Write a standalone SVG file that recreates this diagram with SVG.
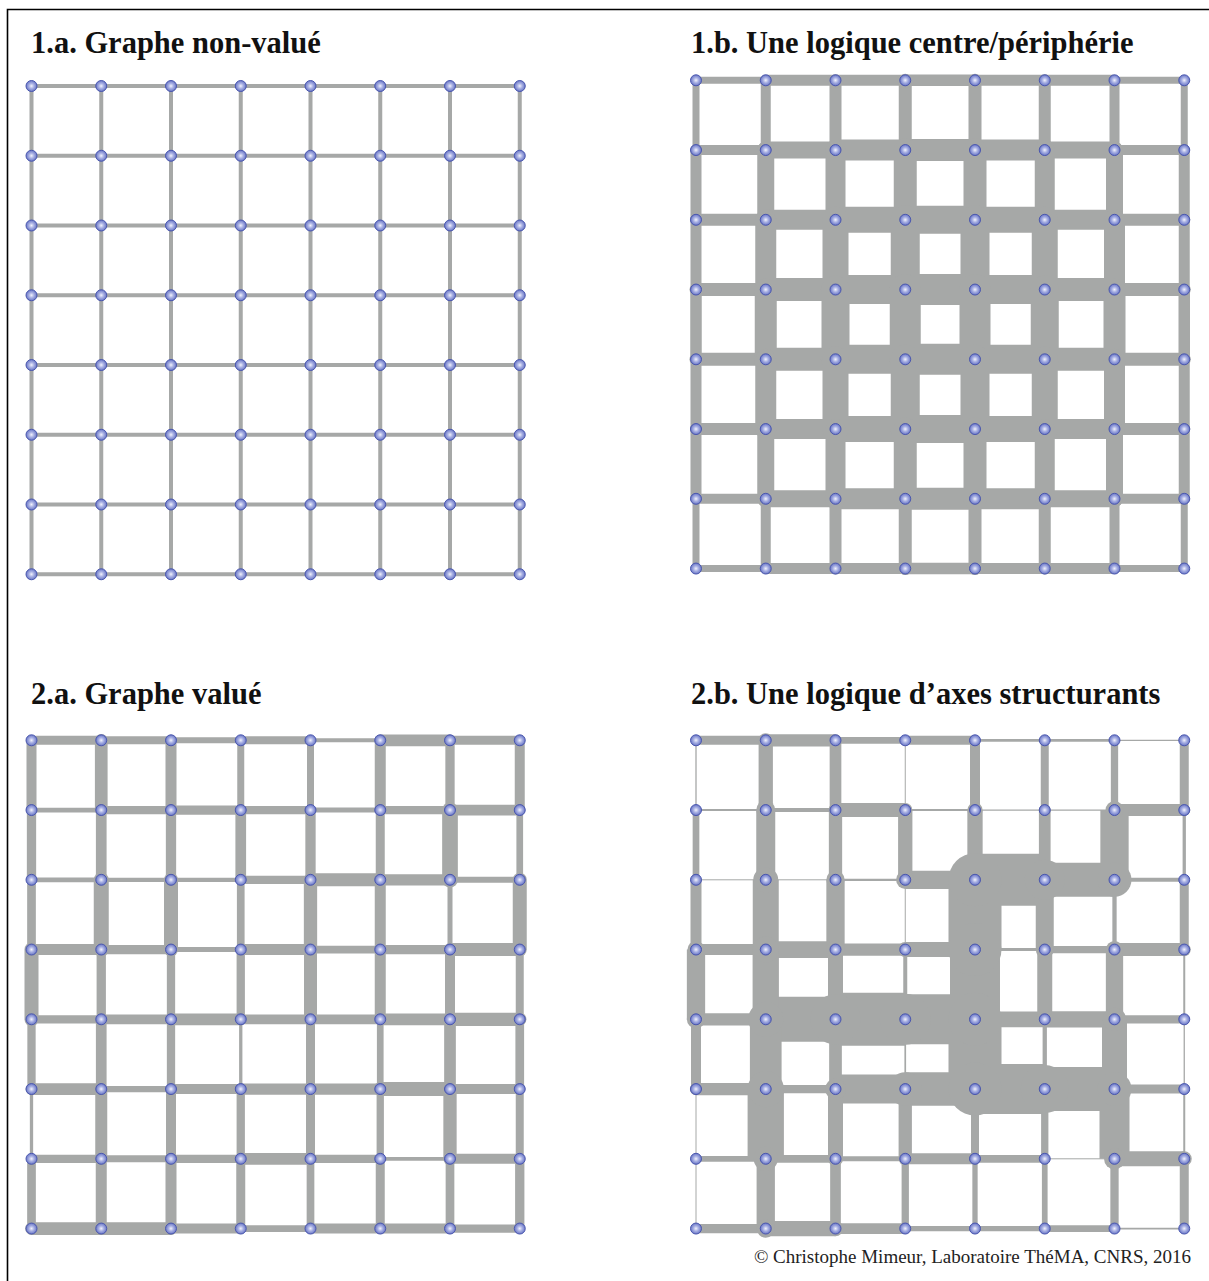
<svg xmlns="http://www.w3.org/2000/svg" width="1209" height="1281" viewBox="0 0 1209 1281">
<style>
.e path{fill:none;stroke:#a6a8a7;stroke-linecap:round}
.e.b path{stroke-linecap:butt}
.e circle{fill:#a6a8a7}
.t{font-family:"Liberation Serif","Times New Roman",serif;font-weight:bold;font-size:30.5px;fill:#111}
.c{font-family:"Liberation Serif","Times New Roman",serif;font-size:19px;fill:#222}
</style>
<defs>
<radialGradient id="ng" cx="0.5" cy="0.5" r="0.5">
<stop offset="0" stop-color="#f2f3fc"/>
<stop offset="0.45" stop-color="#aab2e4"/>
<stop offset="1" stop-color="#6875c6"/>
</radialGradient>
<circle id="n" r="5.5" fill="url(#ng)" stroke="#4a57ae" stroke-width="1"/>
</defs>
<rect width="1209" height="1281" fill="#fff"/>
<path d="M7.5 1281V9.5H1209" fill="none" stroke="#000" stroke-width="1.6"/>
<text class="t" x="31" y="53">1.a. Graphe non-valué</text>
<text class="t" x="691" y="53">1.b. Une logique centre/périphérie</text>
<text class="t" x="31" y="704">2.a. Graphe valué</text>
<text class="t" x="691" y="704">2.b. Une logique d’axes structurants</text>
<text class="c" x="1191" y="1263" text-anchor="end">© Christophe Mimeur, Laboratoire ThéMA, CNRS, 2016</text>

<!-- 1.a -->
<g id="graph-1a" transform="translate(31.5,86)">
<g id="connectors-1a" class="e">
<path stroke-width="4" d="M0 0h488.25M0 69.75h488.25M0 139.5h488.25M0 209.25h488.25M0 279h488.25M0 348.75h488.25M0 418.5h488.25M0 488.25h488.25M0 0v488.25M69.75 0v488.25M139.5 0v488.25M209.25 0v488.25M279 0v488.25M348.75 0v488.25M418.5 0v488.25M488.25 0v488.25"/>
</g>
<g id="nodes-1a">
<g id="a-0-0"><use href="#n" x="0" y="0"/></g><g id="a-0-1"><use href="#n" x="69.75" y="0"/></g><g id="a-0-2"><use href="#n" x="139.5" y="0"/></g><g id="a-0-3"><use href="#n" x="209.25" y="0"/></g><g id="a-0-4"><use href="#n" x="279" y="0"/></g><g id="a-0-5"><use href="#n" x="348.75" y="0"/></g><g id="a-0-6"><use href="#n" x="418.5" y="0"/></g><g id="a-0-7"><use href="#n" x="488.25" y="0"/></g>
<g id="a-1-0"><use href="#n" x="0" y="69.75"/></g><g id="a-1-1"><use href="#n" x="69.75" y="69.75"/></g><g id="a-1-2"><use href="#n" x="139.5" y="69.75"/></g><g id="a-1-3"><use href="#n" x="209.25" y="69.75"/></g><g id="a-1-4"><use href="#n" x="279" y="69.75"/></g><g id="a-1-5"><use href="#n" x="348.75" y="69.75"/></g><g id="a-1-6"><use href="#n" x="418.5" y="69.75"/></g><g id="a-1-7"><use href="#n" x="488.25" y="69.75"/></g>
<g id="a-2-0"><use href="#n" x="0" y="139.5"/></g><g id="a-2-1"><use href="#n" x="69.75" y="139.5"/></g><g id="a-2-2"><use href="#n" x="139.5" y="139.5"/></g><g id="a-2-3"><use href="#n" x="209.25" y="139.5"/></g><g id="a-2-4"><use href="#n" x="279" y="139.5"/></g><g id="a-2-5"><use href="#n" x="348.75" y="139.5"/></g><g id="a-2-6"><use href="#n" x="418.5" y="139.5"/></g><g id="a-2-7"><use href="#n" x="488.25" y="139.5"/></g>
<g id="a-3-0"><use href="#n" x="0" y="209.25"/></g><g id="a-3-1"><use href="#n" x="69.75" y="209.25"/></g><g id="a-3-2"><use href="#n" x="139.5" y="209.25"/></g><g id="a-3-3"><use href="#n" x="209.25" y="209.25"/></g><g id="a-3-4"><use href="#n" x="279" y="209.25"/></g><g id="a-3-5"><use href="#n" x="348.75" y="209.25"/></g><g id="a-3-6"><use href="#n" x="418.5" y="209.25"/></g><g id="a-3-7"><use href="#n" x="488.25" y="209.25"/></g>
<g id="a-4-0"><use href="#n" x="0" y="279"/></g><g id="a-4-1"><use href="#n" x="69.75" y="279"/></g><g id="a-4-2"><use href="#n" x="139.5" y="279"/></g><g id="a-4-3"><use href="#n" x="209.25" y="279"/></g><g id="a-4-4"><use href="#n" x="279" y="279"/></g><g id="a-4-5"><use href="#n" x="348.75" y="279"/></g><g id="a-4-6"><use href="#n" x="418.5" y="279"/></g><g id="a-4-7"><use href="#n" x="488.25" y="279"/></g>
<g id="a-5-0"><use href="#n" x="0" y="348.75"/></g><g id="a-5-1"><use href="#n" x="69.75" y="348.75"/></g><g id="a-5-2"><use href="#n" x="139.5" y="348.75"/></g><g id="a-5-3"><use href="#n" x="209.25" y="348.75"/></g><g id="a-5-4"><use href="#n" x="279" y="348.75"/></g><g id="a-5-5"><use href="#n" x="348.75" y="348.75"/></g><g id="a-5-6"><use href="#n" x="418.5" y="348.75"/></g><g id="a-5-7"><use href="#n" x="488.25" y="348.75"/></g>
<g id="a-6-0"><use href="#n" x="0" y="418.5"/></g><g id="a-6-1"><use href="#n" x="69.75" y="418.5"/></g><g id="a-6-2"><use href="#n" x="139.5" y="418.5"/></g><g id="a-6-3"><use href="#n" x="209.25" y="418.5"/></g><g id="a-6-4"><use href="#n" x="279" y="418.5"/></g><g id="a-6-5"><use href="#n" x="348.75" y="418.5"/></g><g id="a-6-6"><use href="#n" x="418.5" y="418.5"/></g><g id="a-6-7"><use href="#n" x="488.25" y="418.5"/></g>
<g id="a-7-0"><use href="#n" x="0" y="488.25"/></g><g id="a-7-1"><use href="#n" x="69.75" y="488.25"/></g><g id="a-7-2"><use href="#n" x="139.5" y="488.25"/></g><g id="a-7-3"><use href="#n" x="209.25" y="488.25"/></g><g id="a-7-4"><use href="#n" x="279" y="488.25"/></g><g id="a-7-5"><use href="#n" x="348.75" y="488.25"/></g><g id="a-7-6"><use href="#n" x="418.5" y="488.25"/></g><g id="a-7-7"><use href="#n" x="488.25" y="488.25"/></g>
</g>
</g>

<!-- 1.b -->
<g id="graph-1b" transform="translate(696,80.3)">
<g id="connectors-1b" class="e">
<path d="M0 0h69.75" stroke-width="7"/><path d="M69.75 0h69.75" stroke-width="11"/><path d="M139.5 0h69.75" stroke-width="11"/><path d="M209.25 0h69.75" stroke-width="11.5"/><path d="M279 0h69.75" stroke-width="11"/><path d="M348.75 0h69.75" stroke-width="11"/><path d="M418.5 0h69.75" stroke-width="7"/>
<path d="M0 69.75h69.75" stroke-width="10"/><path d="M69.75 69.75h69.75" stroke-width="17"/><path d="M139.5 69.75h69.75" stroke-width="21"/><path d="M209.25 69.75h69.75" stroke-width="22"/><path d="M279 69.75h69.75" stroke-width="21"/><path d="M348.75 69.75h69.75" stroke-width="17"/><path d="M418.5 69.75h69.75" stroke-width="10"/>
<path d="M0 139.5h69.75" stroke-width="12"/><path d="M69.75 139.5h69.75" stroke-width="20"/><path d="M139.5 139.5h69.75" stroke-width="26"/><path d="M209.25 139.5h69.75" stroke-width="28"/><path d="M279 139.5h69.75" stroke-width="26"/><path d="M348.75 139.5h69.75" stroke-width="20"/><path d="M418.5 139.5h69.75" stroke-width="12"/>
<path d="M0 209.25h69.75" stroke-width="13"/><path d="M69.75 209.25h69.75" stroke-width="23"/><path d="M139.5 209.25h69.75" stroke-width="29"/><path d="M209.25 209.25h69.75" stroke-width="31"/><path d="M279 209.25h69.75" stroke-width="29"/><path d="M348.75 209.25h69.75" stroke-width="23"/><path d="M418.5 209.25h69.75" stroke-width="13"/>
<path d="M0 279h69.75" stroke-width="13"/><path d="M69.75 279h69.75" stroke-width="23"/><path d="M139.5 279h69.75" stroke-width="29"/><path d="M209.25 279h69.75" stroke-width="31"/><path d="M279 279h69.75" stroke-width="29"/><path d="M348.75 279h69.75" stroke-width="23"/><path d="M418.5 279h69.75" stroke-width="13"/>
<path d="M0 348.75h69.75" stroke-width="12"/><path d="M69.75 348.75h69.75" stroke-width="20"/><path d="M139.5 348.75h69.75" stroke-width="26"/><path d="M209.25 348.75h69.75" stroke-width="28"/><path d="M279 348.75h69.75" stroke-width="26"/><path d="M348.75 348.75h69.75" stroke-width="20"/><path d="M418.5 348.75h69.75" stroke-width="12"/>
<path d="M0 418.5h69.75" stroke-width="10"/><path d="M69.75 418.5h69.75" stroke-width="17"/><path d="M139.5 418.5h69.75" stroke-width="21"/><path d="M209.25 418.5h69.75" stroke-width="22"/><path d="M279 418.5h69.75" stroke-width="21"/><path d="M348.75 418.5h69.75" stroke-width="17"/><path d="M418.5 418.5h69.75" stroke-width="10"/>
<path d="M0 488.25h69.75" stroke-width="7"/><path d="M69.75 488.25h69.75" stroke-width="11"/><path d="M139.5 488.25h69.75" stroke-width="11"/><path d="M209.25 488.25h69.75" stroke-width="11.5"/><path d="M279 488.25h69.75" stroke-width="11"/><path d="M348.75 488.25h69.75" stroke-width="11"/><path d="M418.5 488.25h69.75" stroke-width="7"/>
<path d="M0 0v69.75" stroke-width="7"/><path d="M0 69.75v69.75" stroke-width="11"/><path d="M0 139.5v69.75" stroke-width="11"/><path d="M0 209.25v69.75" stroke-width="11.5"/><path d="M0 279v69.75" stroke-width="11"/><path d="M0 348.75v69.75" stroke-width="11"/><path d="M0 418.5v69.75" stroke-width="7"/>
<path d="M69.75 0v69.75" stroke-width="10"/><path d="M69.75 69.75v69.75" stroke-width="17"/><path d="M69.75 139.5v69.75" stroke-width="21"/><path d="M69.75 209.25v69.75" stroke-width="22"/><path d="M69.75 279v69.75" stroke-width="21"/><path d="M69.75 348.75v69.75" stroke-width="17"/><path d="M69.75 418.5v69.75" stroke-width="10"/>
<path d="M139.5 0v69.75" stroke-width="12"/><path d="M139.5 69.75v69.75" stroke-width="20"/><path d="M139.5 139.5v69.75" stroke-width="26"/><path d="M139.5 209.25v69.75" stroke-width="28"/><path d="M139.5 279v69.75" stroke-width="26"/><path d="M139.5 348.75v69.75" stroke-width="20"/><path d="M139.5 418.5v69.75" stroke-width="12"/>
<path d="M209.25 0v69.75" stroke-width="13"/><path d="M209.25 69.75v69.75" stroke-width="23"/><path d="M209.25 139.5v69.75" stroke-width="29"/><path d="M209.25 209.25v69.75" stroke-width="31"/><path d="M209.25 279v69.75" stroke-width="29"/><path d="M209.25 348.75v69.75" stroke-width="23"/><path d="M209.25 418.5v69.75" stroke-width="13"/>
<path d="M279 0v69.75" stroke-width="13"/><path d="M279 69.75v69.75" stroke-width="23"/><path d="M279 139.5v69.75" stroke-width="29"/><path d="M279 209.25v69.75" stroke-width="31"/><path d="M279 279v69.75" stroke-width="29"/><path d="M279 348.75v69.75" stroke-width="23"/><path d="M279 418.5v69.75" stroke-width="13"/>
<path d="M348.75 0v69.75" stroke-width="12"/><path d="M348.75 69.75v69.75" stroke-width="20"/><path d="M348.75 139.5v69.75" stroke-width="26"/><path d="M348.75 209.25v69.75" stroke-width="28"/><path d="M348.75 279v69.75" stroke-width="26"/><path d="M348.75 348.75v69.75" stroke-width="20"/><path d="M348.75 418.5v69.75" stroke-width="12"/>
<path d="M418.5 0v69.75" stroke-width="10"/><path d="M418.5 69.75v69.75" stroke-width="17"/><path d="M418.5 139.5v69.75" stroke-width="21"/><path d="M418.5 209.25v69.75" stroke-width="22"/><path d="M418.5 279v69.75" stroke-width="21"/><path d="M418.5 348.75v69.75" stroke-width="17"/><path d="M418.5 418.5v69.75" stroke-width="10"/>
<path d="M488.25 0v69.75" stroke-width="7"/><path d="M488.25 69.75v69.75" stroke-width="11"/><path d="M488.25 139.5v69.75" stroke-width="11"/><path d="M488.25 209.25v69.75" stroke-width="11.5"/><path d="M488.25 279v69.75" stroke-width="11"/><path d="M488.25 348.75v69.75" stroke-width="11"/><path d="M488.25 418.5v69.75" stroke-width="7"/>
</g>
<g id="nodes-1b">
<g id="b-0-0"><use href="#n" x="0" y="0"/></g><g id="b-0-1"><use href="#n" x="69.75" y="0"/></g><g id="b-0-2"><use href="#n" x="139.5" y="0"/></g><g id="b-0-3"><use href="#n" x="209.25" y="0"/></g><g id="b-0-4"><use href="#n" x="279" y="0"/></g><g id="b-0-5"><use href="#n" x="348.75" y="0"/></g><g id="b-0-6"><use href="#n" x="418.5" y="0"/></g><g id="b-0-7"><use href="#n" x="488.25" y="0"/></g>
<g id="b-1-0"><use href="#n" x="0" y="69.75"/></g><g id="b-1-1"><use href="#n" x="69.75" y="69.75"/></g><g id="b-1-2"><use href="#n" x="139.5" y="69.75"/></g><g id="b-1-3"><use href="#n" x="209.25" y="69.75"/></g><g id="b-1-4"><use href="#n" x="279" y="69.75"/></g><g id="b-1-5"><use href="#n" x="348.75" y="69.75"/></g><g id="b-1-6"><use href="#n" x="418.5" y="69.75"/></g><g id="b-1-7"><use href="#n" x="488.25" y="69.75"/></g>
<g id="b-2-0"><use href="#n" x="0" y="139.5"/></g><g id="b-2-1"><use href="#n" x="69.75" y="139.5"/></g><g id="b-2-2"><use href="#n" x="139.5" y="139.5"/></g><g id="b-2-3"><use href="#n" x="209.25" y="139.5"/></g><g id="b-2-4"><use href="#n" x="279" y="139.5"/></g><g id="b-2-5"><use href="#n" x="348.75" y="139.5"/></g><g id="b-2-6"><use href="#n" x="418.5" y="139.5"/></g><g id="b-2-7"><use href="#n" x="488.25" y="139.5"/></g>
<g id="b-3-0"><use href="#n" x="0" y="209.25"/></g><g id="b-3-1"><use href="#n" x="69.75" y="209.25"/></g><g id="b-3-2"><use href="#n" x="139.5" y="209.25"/></g><g id="b-3-3"><use href="#n" x="209.25" y="209.25"/></g><g id="b-3-4"><use href="#n" x="279" y="209.25"/></g><g id="b-3-5"><use href="#n" x="348.75" y="209.25"/></g><g id="b-3-6"><use href="#n" x="418.5" y="209.25"/></g><g id="b-3-7"><use href="#n" x="488.25" y="209.25"/></g>
<g id="b-4-0"><use href="#n" x="0" y="279"/></g><g id="b-4-1"><use href="#n" x="69.75" y="279"/></g><g id="b-4-2"><use href="#n" x="139.5" y="279"/></g><g id="b-4-3"><use href="#n" x="209.25" y="279"/></g><g id="b-4-4"><use href="#n" x="279" y="279"/></g><g id="b-4-5"><use href="#n" x="348.75" y="279"/></g><g id="b-4-6"><use href="#n" x="418.5" y="279"/></g><g id="b-4-7"><use href="#n" x="488.25" y="279"/></g>
<g id="b-5-0"><use href="#n" x="0" y="348.75"/></g><g id="b-5-1"><use href="#n" x="69.75" y="348.75"/></g><g id="b-5-2"><use href="#n" x="139.5" y="348.75"/></g><g id="b-5-3"><use href="#n" x="209.25" y="348.75"/></g><g id="b-5-4"><use href="#n" x="279" y="348.75"/></g><g id="b-5-5"><use href="#n" x="348.75" y="348.75"/></g><g id="b-5-6"><use href="#n" x="418.5" y="348.75"/></g><g id="b-5-7"><use href="#n" x="488.25" y="348.75"/></g>
<g id="b-6-0"><use href="#n" x="0" y="418.5"/></g><g id="b-6-1"><use href="#n" x="69.75" y="418.5"/></g><g id="b-6-2"><use href="#n" x="139.5" y="418.5"/></g><g id="b-6-3"><use href="#n" x="209.25" y="418.5"/></g><g id="b-6-4"><use href="#n" x="279" y="418.5"/></g><g id="b-6-5"><use href="#n" x="348.75" y="418.5"/></g><g id="b-6-6"><use href="#n" x="418.5" y="418.5"/></g><g id="b-6-7"><use href="#n" x="488.25" y="418.5"/></g>
<g id="b-7-0"><use href="#n" x="0" y="488.25"/></g><g id="b-7-1"><use href="#n" x="69.75" y="488.25"/></g><g id="b-7-2"><use href="#n" x="139.5" y="488.25"/></g><g id="b-7-3"><use href="#n" x="209.25" y="488.25"/></g><g id="b-7-4"><use href="#n" x="279" y="488.25"/></g><g id="b-7-5"><use href="#n" x="348.75" y="488.25"/></g><g id="b-7-6"><use href="#n" x="418.5" y="488.25"/></g><g id="b-7-7"><use href="#n" x="488.25" y="488.25"/></g>
</g>
</g>

<!-- 2.a -->
<g id="graph-2a" transform="translate(31.5,740.3)">
<g id="connectors-2a" class="e">
<path d="M0 0h69.75" stroke-width="9"/><path d="M69.75 0h69.75" stroke-width="8"/><path d="M139.5 0h69.75" stroke-width="6"/><path d="M209.25 0h69.75" stroke-width="8"/><path d="M279 0h69.75" stroke-width="4"/><path d="M348.75 0h69.75" stroke-width="11.7"/><path d="M418.5 0h69.75" stroke-width="9"/>
<path d="M0 69.75h69.75" stroke-width="4.7"/><path d="M69.75 69.75h69.75" stroke-width="8.3"/><path d="M139.5 69.75h69.75" stroke-width="9.3"/><path d="M209.25 69.75h69.75" stroke-width="8.3"/><path d="M279 69.75h69.75" stroke-width="5"/><path d="M348.75 69.75h69.75" stroke-width="8.3"/><path d="M418.5 69.75h69.75" stroke-width="10.7"/>
<path d="M0 139.5h69.75" stroke-width="4.7"/><path d="M69.75 139.5h69.75" stroke-width="4.3"/><path d="M139.5 139.5h69.75" stroke-width="4.3"/><path d="M209.25 139.5h69.75" stroke-width="8.3"/><path d="M279 139.5h69.75" stroke-width="13"/><path d="M348.75 139.5h69.75" stroke-width="11.3"/><path d="M418.5 139.5h69.75" stroke-width="6"/>
<path d="M0 209.25h69.75" stroke-width="11"/><path d="M69.75 209.25h69.75" stroke-width="9.3"/><path d="M139.5 209.25h69.75" stroke-width="5"/><path d="M209.25 209.25h69.75" stroke-width="11"/><path d="M279 209.25h69.75" stroke-width="7.7"/><path d="M348.75 209.25h69.75" stroke-width="9.3"/><path d="M418.5 209.25h69.75" stroke-width="13"/>
<path d="M0 279h69.75" stroke-width="8.3"/><path d="M69.75 279h69.75" stroke-width="9.7"/><path d="M139.5 279h69.75" stroke-width="11.7"/><path d="M209.25 279h69.75" stroke-width="9.7"/><path d="M279 279h69.75" stroke-width="9.7"/><path d="M348.75 279h69.75" stroke-width="11.7"/><path d="M418.5 279h69.75" stroke-width="13.3"/>
<path d="M0 348.75h69.75" stroke-width="11.7"/><path d="M69.75 348.75h69.75" stroke-width="6.3"/><path d="M139.5 348.75h69.75" stroke-width="10"/><path d="M209.25 348.75h69.75" stroke-width="11.3"/><path d="M279 348.75h69.75" stroke-width="11.3"/><path d="M348.75 348.75h69.75" stroke-width="14"/><path d="M418.5 348.75h69.75" stroke-width="10"/>
<path d="M0 418.5h69.75" stroke-width="8.3"/><path d="M69.75 418.5h69.75" stroke-width="7"/><path d="M139.5 418.5h69.75" stroke-width="8.3"/><path d="M209.25 418.5h69.75" stroke-width="11.7"/><path d="M279 418.5h69.75" stroke-width="8.3"/><path d="M348.75 418.5h69.75" stroke-width="3.7"/><path d="M418.5 418.5h69.75" stroke-width="10"/>
<path d="M0 488.25h69.75" stroke-width="12.7"/><path d="M69.75 488.25h69.75" stroke-width="12.7"/><path d="M139.5 488.25h69.75" stroke-width="10"/><path d="M209.25 488.25h69.75" stroke-width="6.7"/><path d="M279 488.25h69.75" stroke-width="10"/><path d="M348.75 488.25h69.75" stroke-width="10"/><path d="M418.5 488.25h69.75" stroke-width="8.3"/>
<path d="M0 0v69.75" stroke-width="10"/><path d="M0 69.75v69.75" stroke-width="9.3"/><path d="M0 139.5v69.75" stroke-width="8.7"/><path d="M0 209.25v69.75" stroke-width="14"/><path d="M0 279v69.75" stroke-width="8.3"/><path d="M0 348.75v69.75" stroke-width="3.3"/><path d="M0 418.5v69.75" stroke-width="8.7"/>
<path d="M69.75 0v69.75" stroke-width="12.7"/><path d="M69.75 69.75v69.75" stroke-width="10.7"/><path d="M69.75 139.5v69.75" stroke-width="15"/><path d="M69.75 209.25v69.75" stroke-width="9.3"/><path d="M69.75 279v69.75" stroke-width="10.7"/><path d="M69.75 348.75v69.75" stroke-width="12"/><path d="M69.75 418.5v69.75" stroke-width="11"/>
<path d="M139.5 0v69.75" stroke-width="11"/><path d="M139.5 69.75v69.75" stroke-width="10.3"/><path d="M139.5 139.5v69.75" stroke-width="14"/><path d="M139.5 209.25v69.75" stroke-width="8.3"/><path d="M139.5 279v69.75" stroke-width="8.3"/><path d="M139.5 348.75v69.75" stroke-width="10"/><path d="M139.5 418.5v69.75" stroke-width="11"/>
<path d="M209.25 0v69.75" stroke-width="7"/><path d="M209.25 69.75v69.75" stroke-width="10.7"/><path d="M209.25 139.5v69.75" stroke-width="7.7"/><path d="M209.25 209.25v69.75" stroke-width="8.3"/><path d="M209.25 279v69.75" stroke-width="3.3"/><path d="M209.25 348.75v69.75" stroke-width="8.3"/><path d="M209.25 418.5v69.75" stroke-width="9"/>
<path d="M279 0v69.75" stroke-width="7"/><path d="M279 69.75v69.75" stroke-width="10.3"/><path d="M279 139.5v69.75" stroke-width="13.3"/><path d="M279 209.25v69.75" stroke-width="13"/><path d="M279 279v69.75" stroke-width="9"/><path d="M279 348.75v69.75" stroke-width="9"/><path d="M279 418.5v69.75" stroke-width="7.7"/>
<path d="M348.75 0v69.75" stroke-width="11"/><path d="M348.75 69.75v69.75" stroke-width="9"/><path d="M348.75 139.5v69.75" stroke-width="11"/><path d="M348.75 209.25v69.75" stroke-width="11"/><path d="M348.75 279v69.75" stroke-width="6.7"/><path d="M348.75 348.75v69.75" stroke-width="7.3"/><path d="M348.75 418.5v69.75" stroke-width="9"/>
<path d="M418.5 0v69.75" stroke-width="9.3"/><path d="M418.5 69.75v69.75" stroke-width="15.7"/><path d="M418.5 139.5v69.75" stroke-width="5"/><path d="M418.5 209.25v69.75" stroke-width="10"/><path d="M418.5 279v69.75" stroke-width="11.7"/><path d="M418.5 348.75v69.75" stroke-width="13.3"/><path d="M418.5 418.5v69.75" stroke-width="8.7"/>
<path d="M488.25 0v69.75" stroke-width="10"/><path d="M488.25 69.75v69.75" stroke-width="6.7"/><path d="M488.25 139.5v69.75" stroke-width="14"/><path d="M488.25 209.25v69.75" stroke-width="8"/><path d="M488.25 279v69.75" stroke-width="8.7"/><path d="M488.25 348.75v69.75" stroke-width="8"/><path d="M488.25 418.5v69.75" stroke-width="9.3"/>
</g>
<g id="nodes-2a">
<g id="c-0-0"><use href="#n" x="0" y="0"/></g><g id="c-0-1"><use href="#n" x="69.75" y="0"/></g><g id="c-0-2"><use href="#n" x="139.5" y="0"/></g><g id="c-0-3"><use href="#n" x="209.25" y="0"/></g><g id="c-0-4"><use href="#n" x="279" y="0"/></g><g id="c-0-5"><use href="#n" x="348.75" y="0"/></g><g id="c-0-6"><use href="#n" x="418.5" y="0"/></g><g id="c-0-7"><use href="#n" x="488.25" y="0"/></g>
<g id="c-1-0"><use href="#n" x="0" y="69.75"/></g><g id="c-1-1"><use href="#n" x="69.75" y="69.75"/></g><g id="c-1-2"><use href="#n" x="139.5" y="69.75"/></g><g id="c-1-3"><use href="#n" x="209.25" y="69.75"/></g><g id="c-1-4"><use href="#n" x="279" y="69.75"/></g><g id="c-1-5"><use href="#n" x="348.75" y="69.75"/></g><g id="c-1-6"><use href="#n" x="418.5" y="69.75"/></g><g id="c-1-7"><use href="#n" x="488.25" y="69.75"/></g>
<g id="c-2-0"><use href="#n" x="0" y="139.5"/></g><g id="c-2-1"><use href="#n" x="69.75" y="139.5"/></g><g id="c-2-2"><use href="#n" x="139.5" y="139.5"/></g><g id="c-2-3"><use href="#n" x="209.25" y="139.5"/></g><g id="c-2-4"><use href="#n" x="279" y="139.5"/></g><g id="c-2-5"><use href="#n" x="348.75" y="139.5"/></g><g id="c-2-6"><use href="#n" x="418.5" y="139.5"/></g><g id="c-2-7"><use href="#n" x="488.25" y="139.5"/></g>
<g id="c-3-0"><use href="#n" x="0" y="209.25"/></g><g id="c-3-1"><use href="#n" x="69.75" y="209.25"/></g><g id="c-3-2"><use href="#n" x="139.5" y="209.25"/></g><g id="c-3-3"><use href="#n" x="209.25" y="209.25"/></g><g id="c-3-4"><use href="#n" x="279" y="209.25"/></g><g id="c-3-5"><use href="#n" x="348.75" y="209.25"/></g><g id="c-3-6"><use href="#n" x="418.5" y="209.25"/></g><g id="c-3-7"><use href="#n" x="488.25" y="209.25"/></g>
<g id="c-4-0"><use href="#n" x="0" y="279"/></g><g id="c-4-1"><use href="#n" x="69.75" y="279"/></g><g id="c-4-2"><use href="#n" x="139.5" y="279"/></g><g id="c-4-3"><use href="#n" x="209.25" y="279"/></g><g id="c-4-4"><use href="#n" x="279" y="279"/></g><g id="c-4-5"><use href="#n" x="348.75" y="279"/></g><g id="c-4-6"><use href="#n" x="418.5" y="279"/></g><g id="c-4-7"><use href="#n" x="488.25" y="279"/></g>
<g id="c-5-0"><use href="#n" x="0" y="348.75"/></g><g id="c-5-1"><use href="#n" x="69.75" y="348.75"/></g><g id="c-5-2"><use href="#n" x="139.5" y="348.75"/></g><g id="c-5-3"><use href="#n" x="209.25" y="348.75"/></g><g id="c-5-4"><use href="#n" x="279" y="348.75"/></g><g id="c-5-5"><use href="#n" x="348.75" y="348.75"/></g><g id="c-5-6"><use href="#n" x="418.5" y="348.75"/></g><g id="c-5-7"><use href="#n" x="488.25" y="348.75"/></g>
<g id="c-6-0"><use href="#n" x="0" y="418.5"/></g><g id="c-6-1"><use href="#n" x="69.75" y="418.5"/></g><g id="c-6-2"><use href="#n" x="139.5" y="418.5"/></g><g id="c-6-3"><use href="#n" x="209.25" y="418.5"/></g><g id="c-6-4"><use href="#n" x="279" y="418.5"/></g><g id="c-6-5"><use href="#n" x="348.75" y="418.5"/></g><g id="c-6-6"><use href="#n" x="418.5" y="418.5"/></g><g id="c-6-7"><use href="#n" x="488.25" y="418.5"/></g>
<g id="c-7-0"><use href="#n" x="0" y="488.25"/></g><g id="c-7-1"><use href="#n" x="69.75" y="488.25"/></g><g id="c-7-2"><use href="#n" x="139.5" y="488.25"/></g><g id="c-7-3"><use href="#n" x="209.25" y="488.25"/></g><g id="c-7-4"><use href="#n" x="279" y="488.25"/></g><g id="c-7-5"><use href="#n" x="348.75" y="488.25"/></g><g id="c-7-6"><use href="#n" x="418.5" y="488.25"/></g><g id="c-7-7"><use href="#n" x="488.25" y="488.25"/></g>
</g>
</g>

<!-- 2.b -->
<g id="graph-2b" transform="translate(696,740.3)">
<g id="connectors-2b" class="e b">
<path d="M0 0h69.75" stroke-width="9"/><path d="M69.75 0h69.75" stroke-width="12.3"/><path d="M139.5 0h69.75" stroke-width="6.7"/><path d="M209.25 0h69.75" stroke-width="9"/><path d="M279 0h69.75" stroke-width="2.7"/><path d="M348.75 0h69.75" stroke-width="2.7"/><path d="M418.5 0h69.75" stroke-width="1.3"/>
<path d="M0 69.75h69.75" stroke-width="2"/><path d="M69.75 69.75h69.75" stroke-width="4"/><path d="M139.5 69.75h69.75" stroke-width="14"/><path d="M209.25 69.75h69.75" stroke-width="2"/><path d="M279 69.75h69.75" stroke-width="1.3"/><path d="M348.75 69.75h69.75" stroke-width="1.3"/><path d="M418.5 69.75h69.75" stroke-width="12"/>
<path d="M0 139.5h69.75" stroke-width="1"/><path d="M69.75 139.5h69.75" stroke-width="1"/><path d="M139.5 139.5h69.75" stroke-width="2.3"/><path d="M209.25 139.5h69.75" stroke-width="18.3"/><path d="M279 139.5h69.75" stroke-width="52"/><path d="M348.75 139.5h69.75" stroke-width="34"/><path d="M418.5 139.5h69.75" stroke-width="4"/>
<path d="M0 209.25h69.75" stroke-width="11"/><path d="M69.75 209.25h69.75" stroke-width="16.7"/><path d="M139.5 209.25h69.75" stroke-width="12.3"/><path d="M209.25 209.25h69.75" stroke-width="15"/><path d="M279 209.25h69.75" stroke-width="3"/><path d="M348.75 209.25h69.75" stroke-width="7.3"/><path d="M418.5 209.25h69.75" stroke-width="13"/>
<path d="M0 279h69.75" stroke-width="12.3"/><path d="M69.75 279h69.75" stroke-width="45"/><path d="M139.5 279h69.75" stroke-width="53"/><path d="M209.25 279h69.75" stroke-width="50"/><path d="M279 279h69.75" stroke-width="15.7"/><path d="M348.75 279h69.75" stroke-width="16.3"/><path d="M418.5 279h69.75" stroke-width="8.3"/>
<path d="M0 348.75h69.75" stroke-width="12.3"/><path d="M69.75 348.75h69.75" stroke-width="8.3"/><path d="M139.5 348.75h69.75" stroke-width="29"/><path d="M209.25 348.75h69.75" stroke-width="33.5"/><path d="M279 348.75h69.75" stroke-width="50"/><path d="M348.75 348.75h69.75" stroke-width="44"/><path d="M418.5 348.75h69.75" stroke-width="9"/>
<path d="M0 418.5h69.75" stroke-width="5.7"/><path d="M69.75 418.5h69.75" stroke-width="7.7"/><path d="M139.5 418.5h69.75" stroke-width="5"/><path d="M209.25 418.5h69.75" stroke-width="11"/><path d="M279 418.5h69.75" stroke-width="7.7"/><path d="M348.75 418.5h69.75" stroke-width="1"/><path d="M418.5 418.5h69.75" stroke-width="15"/>
<path d="M0 488.25h69.75" stroke-width="9.3"/><path d="M69.75 488.25h69.75" stroke-width="15.3"/><path d="M139.5 488.25h69.75" stroke-width="10.7"/><path d="M209.25 488.25h69.75" stroke-width="5.3"/><path d="M279 488.25h69.75" stroke-width="5.3"/><path d="M348.75 488.25h69.75" stroke-width="6.7"/><path d="M418.5 488.25h69.75" stroke-width="1.7"/>
<path d="M0 0v69.75" stroke-width="1.3"/><path d="M0 69.75v69.75" stroke-width="6.7"/><path d="M0 139.5v69.75" stroke-width="11"/><path d="M0 209.25v69.75" stroke-width="18.3"/><path d="M0 279v69.75" stroke-width="10"/><path d="M0 348.75v69.75" stroke-width="1"/><path d="M0 418.5v69.75" stroke-width="1"/>
<path d="M69.75 0v69.75" stroke-width="14.3"/><path d="M69.75 69.75v69.75" stroke-width="19"/><path d="M69.75 139.5v69.75" stroke-width="26"/><path d="M69.75 209.25v69.75" stroke-width="26.3"/><path d="M69.75 279v69.75" stroke-width="31.7"/><path d="M69.75 348.75v69.75" stroke-width="36.3"/><path d="M69.75 418.5v69.75" stroke-width="18.3"/>
<path d="M139.5 0v69.75" stroke-width="11.7"/><path d="M139.5 69.75v69.75" stroke-width="13.3"/><path d="M139.5 139.5v69.75" stroke-width="18.3"/><path d="M139.5 209.25v69.75" stroke-width="15"/><path d="M139.5 279v69.75" stroke-width="12.7"/><path d="M139.5 348.75v69.75" stroke-width="15"/><path d="M139.5 418.5v69.75" stroke-width="10.7"/>
<path d="M209.25 0v69.75" stroke-width="1"/><path d="M209.25 69.75v69.75" stroke-width="14.3"/><path d="M209.25 139.5v69.75" stroke-width="1"/><path d="M209.25 209.25v69.75" stroke-width="4"/><path d="M209.25 279v69.75" stroke-width="1.7"/><path d="M209.25 348.75v69.75" stroke-width="13.3"/><path d="M209.25 418.5v69.75" stroke-width="7.3"/>
<path d="M279 0v69.75" stroke-width="10"/><path d="M279 69.75v69.75" stroke-width="15.3"/><path d="M279 139.5v69.75" stroke-width="53"/><path d="M279 209.25v69.75" stroke-width="50"/><path d="M279 279v69.75" stroke-width="53"/><path d="M279 348.75v69.75" stroke-width="8"/><path d="M279 418.5v69.75" stroke-width="5.3"/>
<path d="M348.75 0v69.75" stroke-width="8"/><path d="M348.75 69.75v69.75" stroke-width="11.7"/><path d="M348.75 139.5v69.75" stroke-width="18"/><path d="M348.75 209.25v69.75" stroke-width="15"/><path d="M348.75 279v69.75" stroke-width="4.3"/><path d="M348.75 348.75v69.75" stroke-width="7.3"/><path d="M348.75 418.5v69.75" stroke-width="5.7"/>
<path d="M418.5 0v69.75" stroke-width="7.3"/><path d="M418.5 69.75v69.75" stroke-width="28.3"/><path d="M418.5 139.5v69.75" stroke-width="4.3"/><path d="M418.5 209.25v69.75" stroke-width="17.3"/><path d="M418.5 279v69.75" stroke-width="25"/><path d="M418.5 348.75v69.75" stroke-width="30"/><path d="M418.5 418.5v69.75" stroke-width="8.3"/>
<path d="M488.25 0v69.75" stroke-width="9"/><path d="M488.25 69.75v69.75" stroke-width="3.3"/><path d="M488.25 139.5v69.75" stroke-width="9"/><path d="M488.25 209.25v69.75" stroke-width="2"/><path d="M488.25 279v69.75" stroke-width="1.3"/><path d="M488.25 348.75v69.75" stroke-width="2"/><path d="M488.25 418.5v69.75" stroke-width="9"/>
<circle cx="69.75" cy="0" r="7.15"/><circle cx="139.5" cy="0" r="6.15"/>
<circle cx="69.75" cy="69.75" r="9.5"/><circle cx="139.5" cy="69.75" r="7"/><circle cx="209.25" cy="69.75" r="7.15"/><circle cx="279" cy="69.75" r="7.65"/><circle cx="348.75" cy="69.75" r="5.85"/><circle cx="418.5" cy="69.75" r="9"/><circle cx="488.25" cy="69.75" r="6"/>
<circle cx="69.75" cy="139.5" r="12.5"/><circle cx="139.5" cy="139.5" r="9.15"/><circle cx="209.25" cy="139.5" r="9.15"/><circle cx="279" cy="139.5" r="26.5"/><circle cx="348.75" cy="139.5" r="20"/><circle cx="418.5" cy="139.5" r="17"/>
<circle cx="0" cy="209.25" r="8.5"/><circle cx="69.75" cy="209.25" r="13.15"/><circle cx="139.5" cy="209.25" r="9.15"/><circle cx="209.25" cy="209.25" r="7.5"/><circle cx="279" cy="209.25" r="26.5"/><circle cx="348.75" cy="209.25" r="9"/><circle cx="418.5" cy="209.25" r="8.65"/><circle cx="488.25" cy="209.25" r="6.5"/>
<circle cx="0" cy="279" r="9.15"/><circle cx="69.75" cy="279" r="17.5"/><circle cx="139.5" cy="279" r="25"/><circle cx="209.25" cy="279" r="25.5"/><circle cx="279" cy="279" r="26.5"/><circle cx="348.75" cy="279" r="8.15"/><circle cx="418.5" cy="279" r="11.65"/>
<circle cx="0" cy="348.75" r="6.15"/><circle cx="69.75" cy="348.75" r="18.15"/><circle cx="139.5" cy="348.75" r="10.5"/><circle cx="209.25" cy="348.75" r="16.75"/><circle cx="279" cy="348.75" r="26.5"/><circle cx="348.75" cy="348.75" r="24"/><circle cx="418.5" cy="348.75" r="17"/>
<circle cx="69.75" cy="418.5" r="12.15"/><circle cx="139.5" cy="418.5" r="7.5"/><circle cx="209.25" cy="418.5" r="6.65"/><circle cx="418.5" cy="418.5" r="10.5"/><circle cx="488.25" cy="418.5" r="7.5"/>
<circle cx="69.75" cy="488.25" r="9.15"/><circle cx="139.5" cy="488.25" r="7.65"/>
</g>
<g id="nodes-2b">
<g id="d-0-0"><use href="#n" x="0" y="0"/></g><g id="d-0-1"><use href="#n" x="69.75" y="0"/></g><g id="d-0-2"><use href="#n" x="139.5" y="0"/></g><g id="d-0-3"><use href="#n" x="209.25" y="0"/></g><g id="d-0-4"><use href="#n" x="279" y="0"/></g><g id="d-0-5"><use href="#n" x="348.75" y="0"/></g><g id="d-0-6"><use href="#n" x="418.5" y="0"/></g><g id="d-0-7"><use href="#n" x="488.25" y="0"/></g>
<g id="d-1-0"><use href="#n" x="0" y="69.75"/></g><g id="d-1-1"><use href="#n" x="69.75" y="69.75"/></g><g id="d-1-2"><use href="#n" x="139.5" y="69.75"/></g><g id="d-1-3"><use href="#n" x="209.25" y="69.75"/></g><g id="d-1-4"><use href="#n" x="279" y="69.75"/></g><g id="d-1-5"><use href="#n" x="348.75" y="69.75"/></g><g id="d-1-6"><use href="#n" x="418.5" y="69.75"/></g><g id="d-1-7"><use href="#n" x="488.25" y="69.75"/></g>
<g id="d-2-0"><use href="#n" x="0" y="139.5"/></g><g id="d-2-1"><use href="#n" x="69.75" y="139.5"/></g><g id="d-2-2"><use href="#n" x="139.5" y="139.5"/></g><g id="d-2-3"><use href="#n" x="209.25" y="139.5"/></g><g id="d-2-4"><use href="#n" x="279" y="139.5"/></g><g id="d-2-5"><use href="#n" x="348.75" y="139.5"/></g><g id="d-2-6"><use href="#n" x="418.5" y="139.5"/></g><g id="d-2-7"><use href="#n" x="488.25" y="139.5"/></g>
<g id="d-3-0"><use href="#n" x="0" y="209.25"/></g><g id="d-3-1"><use href="#n" x="69.75" y="209.25"/></g><g id="d-3-2"><use href="#n" x="139.5" y="209.25"/></g><g id="d-3-3"><use href="#n" x="209.25" y="209.25"/></g><g id="d-3-4"><use href="#n" x="279" y="209.25"/></g><g id="d-3-5"><use href="#n" x="348.75" y="209.25"/></g><g id="d-3-6"><use href="#n" x="418.5" y="209.25"/></g><g id="d-3-7"><use href="#n" x="488.25" y="209.25"/></g>
<g id="d-4-0"><use href="#n" x="0" y="279"/></g><g id="d-4-1"><use href="#n" x="69.75" y="279"/></g><g id="d-4-2"><use href="#n" x="139.5" y="279"/></g><g id="d-4-3"><use href="#n" x="209.25" y="279"/></g><g id="d-4-4"><use href="#n" x="279" y="279"/></g><g id="d-4-5"><use href="#n" x="348.75" y="279"/></g><g id="d-4-6"><use href="#n" x="418.5" y="279"/></g><g id="d-4-7"><use href="#n" x="488.25" y="279"/></g>
<g id="d-5-0"><use href="#n" x="0" y="348.75"/></g><g id="d-5-1"><use href="#n" x="69.75" y="348.75"/></g><g id="d-5-2"><use href="#n" x="139.5" y="348.75"/></g><g id="d-5-3"><use href="#n" x="209.25" y="348.75"/></g><g id="d-5-4"><use href="#n" x="279" y="348.75"/></g><g id="d-5-5"><use href="#n" x="348.75" y="348.75"/></g><g id="d-5-6"><use href="#n" x="418.5" y="348.75"/></g><g id="d-5-7"><use href="#n" x="488.25" y="348.75"/></g>
<g id="d-6-0"><use href="#n" x="0" y="418.5"/></g><g id="d-6-1"><use href="#n" x="69.75" y="418.5"/></g><g id="d-6-2"><use href="#n" x="139.5" y="418.5"/></g><g id="d-6-3"><use href="#n" x="209.25" y="418.5"/></g><g id="d-6-4"><use href="#n" x="279" y="418.5"/></g><g id="d-6-5"><use href="#n" x="348.75" y="418.5"/></g><g id="d-6-6"><use href="#n" x="418.5" y="418.5"/></g><g id="d-6-7"><use href="#n" x="488.25" y="418.5"/></g>
<g id="d-7-0"><use href="#n" x="0" y="488.25"/></g><g id="d-7-1"><use href="#n" x="69.75" y="488.25"/></g><g id="d-7-2"><use href="#n" x="139.5" y="488.25"/></g><g id="d-7-3"><use href="#n" x="209.25" y="488.25"/></g><g id="d-7-4"><use href="#n" x="279" y="488.25"/></g><g id="d-7-5"><use href="#n" x="348.75" y="488.25"/></g><g id="d-7-6"><use href="#n" x="418.5" y="488.25"/></g><g id="d-7-7"><use href="#n" x="488.25" y="488.25"/></g>
</g>
</g>
</svg>
